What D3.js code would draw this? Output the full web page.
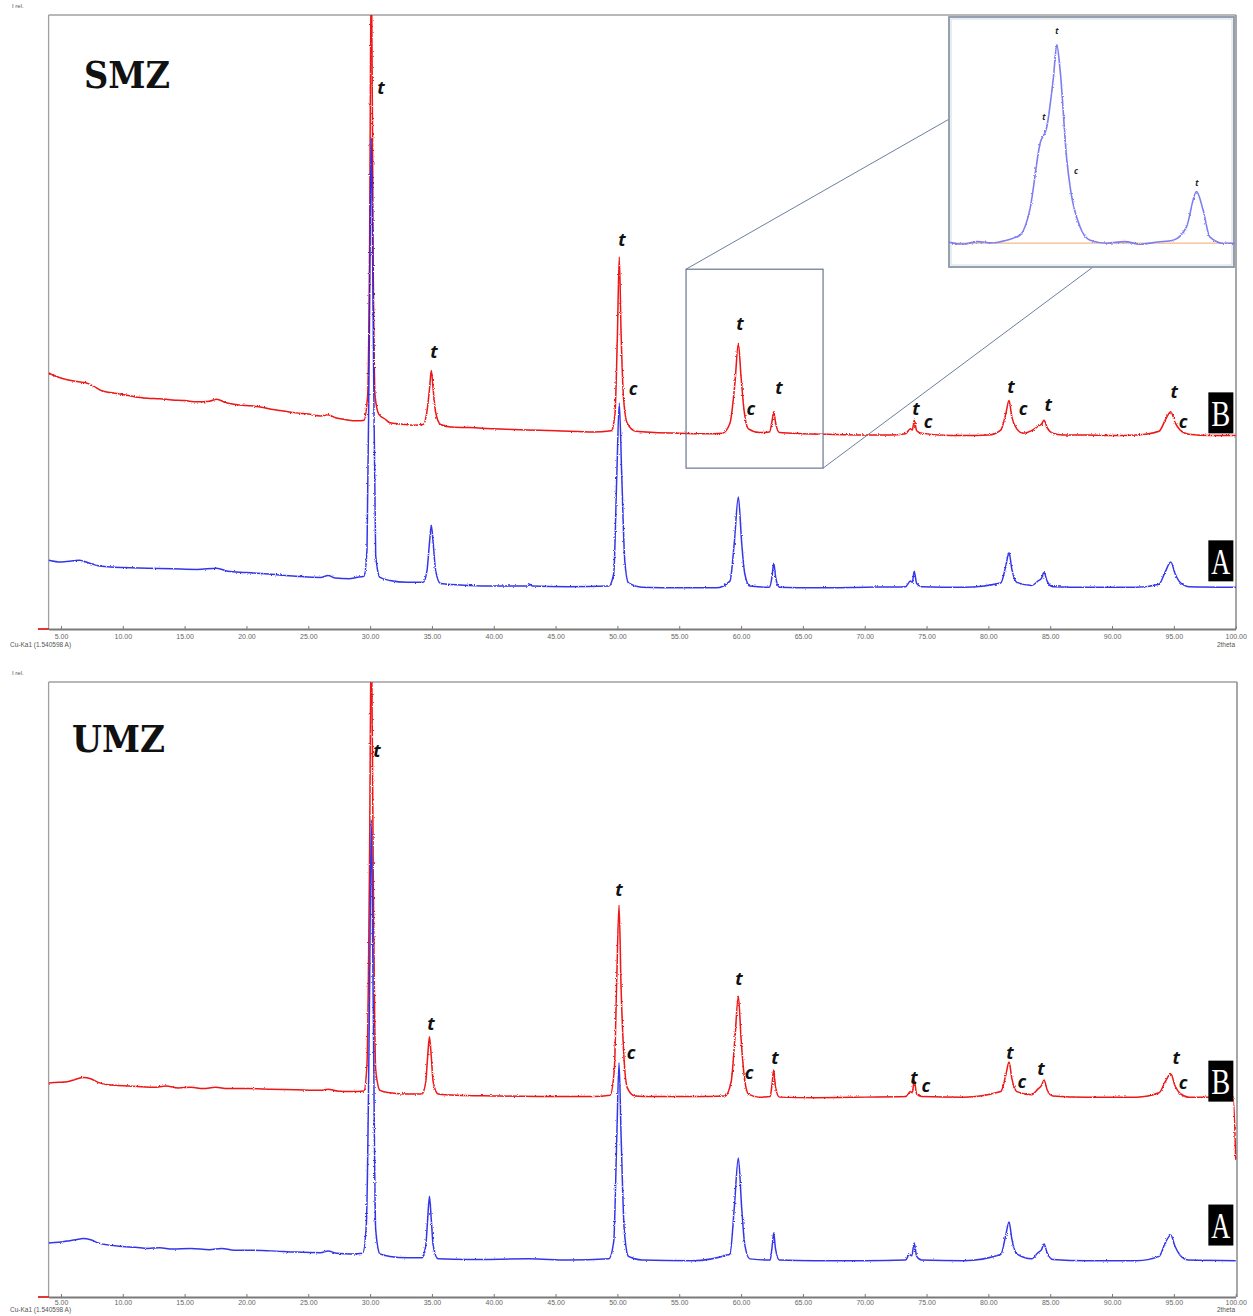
<!DOCTYPE html>
<html><head><meta charset="utf-8">
<script src="https://cdn.jsdelivr.net/npm/d3@7"></script>
<style>body{margin:0;background:#fff} svg{display:block}</style>
</head><body>
<svg id="chart" width="1253" height="1316"></svg>
<script>
// ---------- data (2theta, relative intensity 0-100 of panel height) ----------
const xTicks = [5,10,15,20,25,30,35,40,45,50,55,60,65,70,75,80,85,90,95,100];
const xTickLabels = ["5.00","10.00","15.00","20.00","25.00","30.00","35.00","40.00","45.00","50.00","55.00","60.00","65.00","70.00","75.00","80.00","85.00","90.00","95.00","100.00"];

const smzB = [[4.0,41.7],[4.8,41.0],[5.5,40.6],[6.3,40.3],[7.0,40.1],[7.6,39.6],[8.3,38.8],[9.0,38.5],[10.0,38.2],[11.0,37.8],[12.0,37.6],[13.0,37.5],[14.0,37.3],[15.0,37.2],[16.0,37.0],[17.0,37.1],[17.6,37.4],[18.3,36.9],[19.0,36.6],[20.0,36.4],[21.0,36.2],[22.0,35.8],[23.0,35.5],[24.0,35.2],[25.0,35.0],[26.0,34.7],[26.6,34.9],[27.2,34.4],[28.0,34.1],[29.0,33.9],[29.5,34.0],[29.8,38],[29.95,60],[30.1,110],[30.25,60],[30.4,38],[30.7,35.0],[31.2,34.2],[31.6,33.6],[32.5,33.4],[33.5,33.2],[34.3,33.3],[34.6,35.5],[34.8,39.0],[34.95,42.1],[35.1,39.0],[35.3,35.3],[35.7,33.3],[36.5,32.9],[38,32.8],[40,32.6],[42.7,32.4],[45,32.3],[48,32.1],[49.5,32.3],[49.8,35],[50.0,48],[50.15,60.6],[50.3,48],[50.5,37.5],[50.8,33.5],[51.5,32.2],[53,32.0],[55,31.9],[57,31.8],[58.5,31.9],[59.1,33.5],[59.5,40],[59.78,46.5],[60.0,41],[60.25,35.5],[60.6,32.6],[61.5,32.0],[62.3,32.1],[62.5,33.8],[62.64,35.4],[62.8,33.5],[63.1,32.0],[65,31.8],[67,31.7],[70,31.6],[72,31.6],[73.3,31.8],[73.7,32.6],[73.85,32.4],[74.0,34.0],[74.2,32.3],[74.6,31.9],[76,31.6],[78,31.5],[80,31.6],[81.0,32.4],[81.4,35.0],[81.67,37.2],[81.9,34.5],[82.3,32.6],[82.8,31.9],[83.5,32.3],[84.0,33.0],[84.3,33.4],[84.5,34.0],[84.75,32.8],[85.2,31.9],[86,31.6],[88,31.6],[90,31.5],[92,31.6],[93.8,32.2],[94.3,34.0],[94.75,35.4],[95.1,33.6],[95.5,32.4],[96.2,31.7],[98,31.5],[100,31.5]];

const smzA = [[4.0,11.2],[5.0,10.9],[6.0,11.1],[6.5,11.2],[7.2,10.8],[8.0,10.3],[9.0,10.1],[10,10.0],[12,9.9],[14,9.8],[16,9.7],[17.6,9.9],[18.5,9.4],[20,9.2],[22,8.9],[24,8.6],[26,8.4],[26.6,8.7],[27.2,8.3],[28.3,8.2],[28.9,8.4],[29.5,8.6],[29.75,13],[29.95,50],[30.1,80],[30.25,50],[30.45,12],[30.8,8.4],[31.6,7.9],[33,7.6],[34.3,7.6],[34.6,9.5],[34.8,14],[34.95,16.9],[35.1,14],[35.3,9.5],[35.7,7.4],[38,7.1],[40,7.0],[42.7,7.0],[42.9,7.3],[43.1,7.0],[46,6.9],[49.3,7.0],[49.7,9],[49.95,25],[50.15,36.8],[50.35,25],[50.6,11],[50.9,7.5],[52,6.8],[55,6.7],[58,6.7],[59.1,7.8],[59.45,14],[59.78,21.5],[60.05,14],[60.3,9.0],[60.7,7.0],[62.3,6.8],[62.5,8.5],[62.64,10.7],[62.8,8.4],[63.1,6.8],[66,6.7],[70,6.8],[73.3,6.9],[73.7,7.8],[73.85,7.6],[74.0,9.4],[74.2,7.4],[74.6,6.9],[78,6.8],[81.0,7.5],[81.4,10.2],[81.67,12.4],[81.9,9.7],[82.3,7.6],[83.5,7.1],[84.0,7.8],[84.3,8.3],[84.5,9.2],[84.75,7.8],[85.2,6.9],[88,6.8],[92,6.8],[93.8,7.3],[94.3,9.3],[94.75,10.9],[95.1,9.0],[95.5,7.6],[96.2,6.9],[100,6.8]];

const umzB = [[4.0,34.8],[4.8,34.9],[5.5,35.0],[6.2,35.4],[6.8,35.7],[7.4,35.5],[8.0,34.9],[8.8,34.5],[9.6,34.4],[10.5,34.3],[11.5,34.2],[12.5,34.1],[13.5,34.3],[14.5,34.0],[15.5,34.1],[16.5,33.9],[17.5,34.1],[18.5,33.9],[20,33.9],[22,33.8],[24,33.7],[26,33.6],[26.6,33.8],[27.3,33.5],[28.5,33.4],[29.5,33.5],[29.75,38],[29.95,70],[30.1,110],[30.25,70],[30.45,37],[30.8,33.6],[31.6,33.2],[33,33.0],[34.2,33.0],[34.5,35],[34.65,39],[34.8,42.3],[34.95,39],[35.1,35],[35.5,33.0],[37,32.8],[40,32.7],[45,32.6],[48,32.6],[49.4,32.8],[49.75,37],[49.95,52],[50.13,63.7],[50.3,50],[50.5,40],[50.8,34],[51.4,32.7],[53,32.6],[56,32.6],[58.7,32.7],[59.2,35],[59.5,42],[59.78,48.9],[60.0,42],[60.25,36],[60.6,33],[61.5,32.5],[62.35,32.6],[62.5,34.5],[62.64,36.9],[62.78,34.2],[63.1,32.5],[66,32.4],[70,32.5],[73.3,32.6],[73.7,33.4],[73.85,33.2],[74.0,35.3],[74.2,33.0],[74.6,32.6],[78,32.5],[81.0,33.4],[81.4,36.0],[81.67,38.2],[81.9,35.5],[82.3,33.4],[83.5,32.9],[84.0,33.8],[84.3,34.4],[84.5,35.3],[84.75,33.7],[85.2,32.7],[88,32.5],[92,32.5],[93.8,33.2],[94.3,35.0],[94.75,36.3],[95.1,34.3],[95.5,33.1],[96.2,32.5],[99.8,32.5],[100,22.3]];

const umzA = [[4.0,8.8],[4.8,8.9],[5.5,9.1],[6.2,9.3],[6.8,9.5],[7.4,9.3],[8.0,8.8],[9.0,8.4],[10,8.2],[11,8.1],[12,7.9],[13,8.0],[14,7.8],[15.5,7.9],[17,7.7],[18,7.9],[19,7.6],[20.5,7.6],[22,7.5],[24,7.3],[26,7.2],[26.6,7.5],[27.3,7.1],[28.5,7.0],[29.4,7.1],[29.7,12],[29.95,48],[30.1,77.6],[30.25,48],[30.45,11],[30.8,7.0],[31.6,6.6],[33,6.4],[34.2,6.4],[34.5,8.4],[34.65,12.5],[34.8,16.4],[34.95,12.5],[35.1,8.4],[35.5,6.2],[38,6.1],[42.9,6.2],[46,6.0],[49.3,6.2],[49.7,9],[49.95,26],[50.13,38.1],[50.3,26],[50.55,11],[50.9,6.6],[52,6.0],[56,5.9],[59.1,7.0],[59.45,14.5],[59.78,22.6],[60.05,14.5],[60.3,8.5],[60.7,6.2],[62.35,6.0],[62.5,8.0],[62.64,10.4],[62.78,7.9],[63.1,6.0],[66,5.9],[70,5.9],[73.3,6.0],[73.6,6.9],[73.8,6.7],[74.0,8.8],[74.2,6.6],[74.6,6.0],[78,5.9],[81.0,6.9],[81.4,10.0],[81.67,12.2],[81.9,9.4],[82.3,7.0],[83.5,6.2],[84.0,7.2],[84.3,7.7],[84.5,8.6],[84.75,7.2],[85.2,6.1],[88,5.9],[92,5.9],[93.8,6.6],[94.3,8.8],[94.75,10.1],[95.1,8.2],[95.5,6.8],[96.2,6.0],[100,5.9]];

// phase labels [2theta, intensity, text]
const smzPeakLabels = [[30.88,88.1,"t"],[35.17,45.1,"t"],[50.37,63.4,"t"],[51.26,39.1,"c"],[59.91,49.7,"t"],[60.80,35.8,"c"],[63.06,39.3,"t"],[74.15,35.8,"t"],[75.12,33.7,"c"],[81.83,39.4,"t"],[82.80,35.8,"c"],[84.83,36.6,"t"],[95.02,38.6,"t"],[95.75,33.7,"c"]];
const umzPeakLabels = [[30.56,88.8,"t"],[34.93,44.4,"t"],[50.13,66.3,"t"],[51.10,39.7,"c"],[59.83,51.7,"t"],[60.64,36.4,"c"],[62.74,38.9,"t"],[73.98,35.6,"t"],[74.95,34.3,"c"],[81.74,39.8,"t"],[82.71,35.0,"c"],[84.25,37.1,"t"],[95.18,38.9,"t"],[95.75,34.8,"c"]];

// sample tags [2theta, intensity, text]
const smzSamples = [[98.8,35.2,"B"],[98.8,11.1,"A"]];
const umzSamples = [[98.8,35.1,"B"],[98.8,11.7,"A"]];

// inset (zoom of 57.5-63.5 deg) [2theta, counts 0-100]
const insetTrace = [[57.5,0.5],[57.8,-0.5],[58.1,0.8],[58.4,0.2],[58.71,1.5],[58.99,4],[59.2,16.7],[59.42,50.5],[59.56,58.7],[59.7,84],[59.77,100],[59.84,87],[59.98,42],[60.06,26.8],[60.26,8.2],[60.47,1.5],[60.82,0],[61.2,0.8],[61.52,-0.5],[61.9,0.6],[62.22,1.5],[62.5,8.2],[62.71,26],[62.85,16.7],[62.99,3.2],[63.27,0],[63.52,0]];
const insetLabels = [[59.77,107,"t"],[59.5,63.6,"t"],[60.17,36.4,"c"],[62.72,30.3,"t"]];
const zoomBox = [55.55,66.63,26.2,58.6]; // 2theta range, intensity range

// ---------- drawing ----------
const svg = d3.select("#chart");
const defs = svg.append("defs");
const flt = defs.append("filter").attr("id","grain").attr("x","-2%").attr("y","-5%").attr("width","104%").attr("height","110%");
flt.append("feTurbulence").attr("type","fractalNoise").attr("baseFrequency","0.9").attr("numOctaves",1).attr("seed",3).attr("result","n");
flt.append("feDisplacementMap").attr("in","SourceGraphic").attr("in2","n").attr("scale",2.6).attr("xChannelSelector","R").attr("yChannelSelector","G");

const x = d3.scaleLinear().domain([4,100]).range([48.6,1235.7]);

const panels = [
  {name:"SMZ", top:15, axis:629, right:1236, red:smzB, blue:smzA, labels:smzPeakLabels, samples:smzSamples,
   title:{x:84, y:88, len:86, size:38}, irelY:8, tickPad:5, cuY:647},
  {name:"UMZ", top:682, axis:1297, right:1237, red:umzB, blue:umzA, labels:umzPeakLabels, samples:umzSamples,
   title:{x:72, y:752, len:93, size:38}, irelY:675, tickPad:3, cuY:1312}
];

panels.forEach((p,i)=>{
  const y = d3.scaleLinear().domain([0,100]).range([p.axis, p.top]);
  p.y = y;
  const g = svg.append("g");
  const clipId = "clip"+i;
  defs.append("clipPath").attr("id",clipId).append("rect")
    .attr("x",48.6).attr("y",p.top).attr("width",p.right-48.6).attr("height",p.axis-p.top);

  // frame
  g.append("line").attr("x1",48.6).attr("x2",p.right).attr("y1",p.top).attr("y2",p.top).attr("stroke","#a0a0a0").attr("stroke-width",1.3);
  g.append("line").attr("x1",p.right).attr("x2",p.right).attr("y1",p.top).attr("y2",p.axis).attr("stroke","#8a8a8a").attr("stroke-width",1.5);
  g.append("line").attr("x1",48.6).attr("x2",48.6).attr("y1",p.top).attr("y2",p.axis).attr("stroke","#a0a0a0").attr("stroke-width",1.3);

  // axis
  const ax = d3.axisBottom(x).tickValues(xTicks).tickFormat((d,k)=>xTickLabels[k])
    .tickSizeInner(-3).tickSizeOuter(0).tickPadding(p.tickPad);
  const ag = g.append("g").attr("transform",`translate(0,${p.axis})`).call(ax);
  ag.select(".domain").attr("stroke","#7a7a7a").attr("stroke-width",1.8);
  ag.selectAll(".tick line").attr("stroke","#7a7a7a");
  ag.selectAll(".tick text").attr("fill","#666").style("font-family","Liberation Sans, Arial").style("font-size","7px");
  g.append("line").attr("x1",38).attr("x2",49).attr("y1",p.axis).attr("y2",p.axis).attr("stroke","#e02020").attr("stroke-width",1.8);

  g.append("text").attr("x",12).attr("y",p.irelY).text("I rel.")
    .attr("fill","#555").style("font-family","Liberation Sans, Arial").style("font-size","6px");
  g.append("text").attr("x",10).attr("y",p.cuY).text("Cu-Ka1 (1.540598 A)")
    .attr("fill","#555").style("font-family","Liberation Sans, Arial").style("font-size","6.5px");
  g.append("text").attr("x",1235).attr("y",p.cuY).attr("text-anchor","end").text("2theta")
    .attr("fill","#555").style("font-family","Liberation Sans, Arial").style("font-size","6.5px");

  const line = d3.line().x(d=>x(d[0])).y(d=>y(d[1])).curve(d3.curveMonotoneX);
  const tg = g.append("g").attr("clip-path",`url(#${clipId})`).append("g").attr("filter","url(#grain)");
  tg.append("path").datum(p.red).attr("d",line).attr("fill","none").attr("stroke","#ee1414").attr("stroke-width",1.5).attr("stroke-linejoin","round");
  tg.append("path").datum(p.blue).attr("d",line).attr("fill","none").attr("stroke","#2020e6").attr("stroke-width",1.5).attr("stroke-opacity",0.9).attr("stroke-linejoin","round");

  // title
  g.append("text").attr("x",p.title.x).attr("y",p.title.y).text(p.name)
    .attr("textLength",p.title.len).attr("lengthAdjust","spacingAndGlyphs")
    .style("font-family","DejaVu Serif, serif").style("font-weight","bold").style("font-size",p.title.size+"px").attr("fill","#111");

  // phase labels
  g.selectAll("text.pl").data(p.labels).enter().append("text").attr("class","pl")
    .attr("x",d=>x(d[0])).attr("y",d=>y(d[1])).attr("dy","0.35em").attr("text-anchor","middle")
    .text(d=>d[2]).style("font-family","Open Sans, sans-serif").style("font-weight","bold").style("font-style","italic")
    .style("font-size","18px").attr("fill","#111");

  // sample tags
  const sg = g.selectAll("g.st").data(p.samples).enter().append("g").attr("class","st")
    .attr("transform",d=>`translate(${x(d[0])},${y(d[1])})`);
  sg.append("rect").attr("x",-12.5).attr("y",-20.5).attr("width",25).attr("height",41).attr("fill","#000");
  sg.append("text").attr("x",0).attr("y",13).attr("text-anchor","middle").text(d=>d[2])
    .attr("textLength",19).attr("lengthAdjust","spacingAndGlyphs")
    .style("font-family","Liberation Serif, serif").style("font-size","36px").attr("fill","#fff");
});

// ---------- zoom box and inset (top panel) ----------
const P = panels[0];
const bx0 = x(zoomBox[0]), bx1 = x(zoomBox[1]), by0 = P.y(zoomBox[3]), by1 = P.y(zoomBox[2]);
svg.append("rect").attr("x",bx0).attr("y",by0).attr("width",bx1-bx0).attr("height",by1-by0)
  .attr("fill","none").attr("stroke","#5b6b86").attr("stroke-width",1.1);

const ix = d3.scaleLinear().domain([57.5,63.5]).range([949,1234]);
const iy = d3.scaleLinear().domain([-12,114]).range([267,17]);
svg.append("line").attr("x1",bx0).attr("y1",by0).attr("x2",ix.range()[0]).attr("y2",iy(62.5)).attr("stroke","#6d7fa0").attr("stroke-width",1);
svg.append("line").attr("x1",bx1).attr("y1",by1).attr("x2",1093).attr("y2",iy.range()[0]).attr("stroke","#6d7fa0").attr("stroke-width",1);

const ig = svg.append("g");
ig.append("rect").attr("x",949).attr("y",17).attr("width",285).attr("height",250)
  .attr("fill","#fff").attr("stroke","#8b97a8").attr("stroke-width",1.8);
ig.append("rect").attr("x",951).attr("y",19).attr("width",281).attr("height",246)
  .attr("fill","none").attr("stroke","#d6dbe2").attr("stroke-width",1);
ig.append("line").attr("x1",951).attr("x2",1232).attr("y1",iy(0)).attr("y2",iy(0)).attr("stroke","#f5b98a").attr("stroke-width",1.2);
const iline = d3.line().x(d=>ix(d[0])).y(d=>iy(d[1])).curve(d3.curveMonotoneX);
ig.append("g").attr("filter","url(#grain)").append("path").datum(insetTrace).attr("d",iline).attr("fill","none").attr("stroke","#7d7df2").attr("stroke-width",1.6);
ig.selectAll("text.il").data(insetLabels).enter().append("text").attr("class","il")
  .attr("x",d=>ix(d[0])).attr("y",d=>iy(d[1])).attr("dy","0.35em").attr("text-anchor","middle")
  .text(d=>d[2]).style("font-family","Open Sans, sans-serif").style("font-weight","bold").style("font-style","italic")
  .style("font-size","8px").attr("fill","#222");
</script>
</body></html>
